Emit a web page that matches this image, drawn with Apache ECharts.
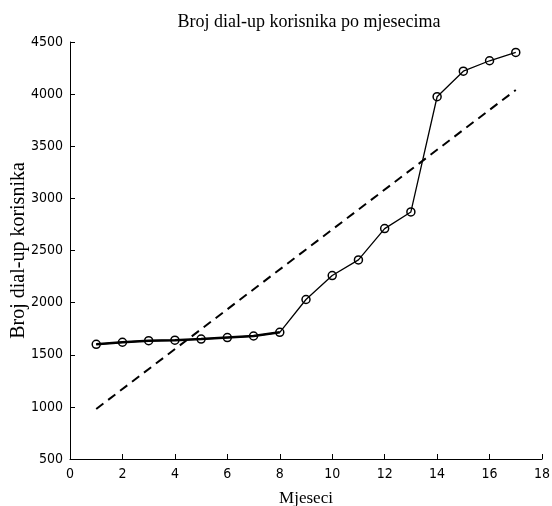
<!DOCTYPE html>
<html><head><meta charset="utf-8">
<script src="https://cdn.jsdelivr.net/npm/echarts@6/dist/echarts.min.js"></script>
<style>html,body{margin:0;padding:0;background:#fff}#c{width:552px;height:506px}</style>
</head><body><div id="c"></div>
<script>
var months = [1,2,3,4,5,6,7,8,9,10,11,12,13,14,15,16,17];
var users = [1600,1620,1635,1640,1650,1665,1680,1715,2030,2260,2410,2710,2870,3975,4220,4320,4400];
var trendX = [1,17];
var trendY = [980,4040];
var xTicks = [0,2,4,6,8,10,12,14,16,18];
var yTicks = [500,1000,1500,2000,2500,3000,3500,4000,4500];

var pts = months.map(function(m,i){return [m,users[i]];});
var trend = trendX.map(function(m,i){return [m,trendY[i]];});
var tickFont = {fontFamily:'DejaVu Sans Condensed, Liberation Sans Narrow, Liberation Sans', fontSize:14, color:'#000'};
var chart = echarts.init(document.getElementById('c'));
chart.setOption({
  animation:false,
  backgroundColor:'#fff',
  title:{text:'Broj dial-up korisnika po mjesecima', left:304, top:8, textAlign:'center',
    textStyle:{fontFamily:'Liberation Serif', fontWeight:'normal', fontSize:18, color:'#000'}},
  grid:{left:70, right:10, top:42, bottom:47, containLabel:false, outerBoundsMode:'none'},
  xAxis:{type:'value', min:xTicks[0], max:xTicks[xTicks.length-1], interval:2,
    name:'Mjeseci', nameLocation:'middle', nameGap:31, nameMoveOverlap:false,
    nameTextStyle:{fontFamily:'Liberation Serif', fontSize:17, color:'#000'},
    axisLine:{lineStyle:{color:'#000', width:1}},
    axisTick:{inside:true, length:5, lineStyle:{color:'#000'}},
    axisLabel:Object.assign({margin:8, formatter:function(v){return String(v);}}, tickFont),
    splitLine:{show:false}},
  yAxis:{type:'value', min:yTicks[0], max:yTicks[yTicks.length-1], interval:500,
    name:'Broj dial-up korisnika', nameLocation:'middle', nameGap:41, nameMoveOverlap:false,
    nameTextStyle:{fontFamily:'Liberation Serif', fontSize:20, color:'#000'},
    axisLine:{show:true, lineStyle:{color:'#000', width:1}},
    axisTick:{show:true, inside:true, length:5, lineStyle:{color:'#000'}},
    axisLabel:Object.assign({margin:7, formatter:function(v){return String(v);}}, tickFont),
    splitLine:{show:false}},
  series:[
    {type:'line', data:trend, showSymbol:false, symbol:'none',
      lineStyle:{color:'#000', width:2, type:[9,6]}},
    {type:'line', data:pts.slice(0,8), symbol:'none',
      lineStyle:{color:'#000', width:2.5}},
    {type:'line', data:pts, symbol:'circle', symbolSize:8,
      itemStyle:{color:'rgba(0,0,0,0)', borderColor:'#000', borderWidth:1.5},
      lineStyle:{color:'#000', width:1.3}}
  ]
});
</script></body></html>
